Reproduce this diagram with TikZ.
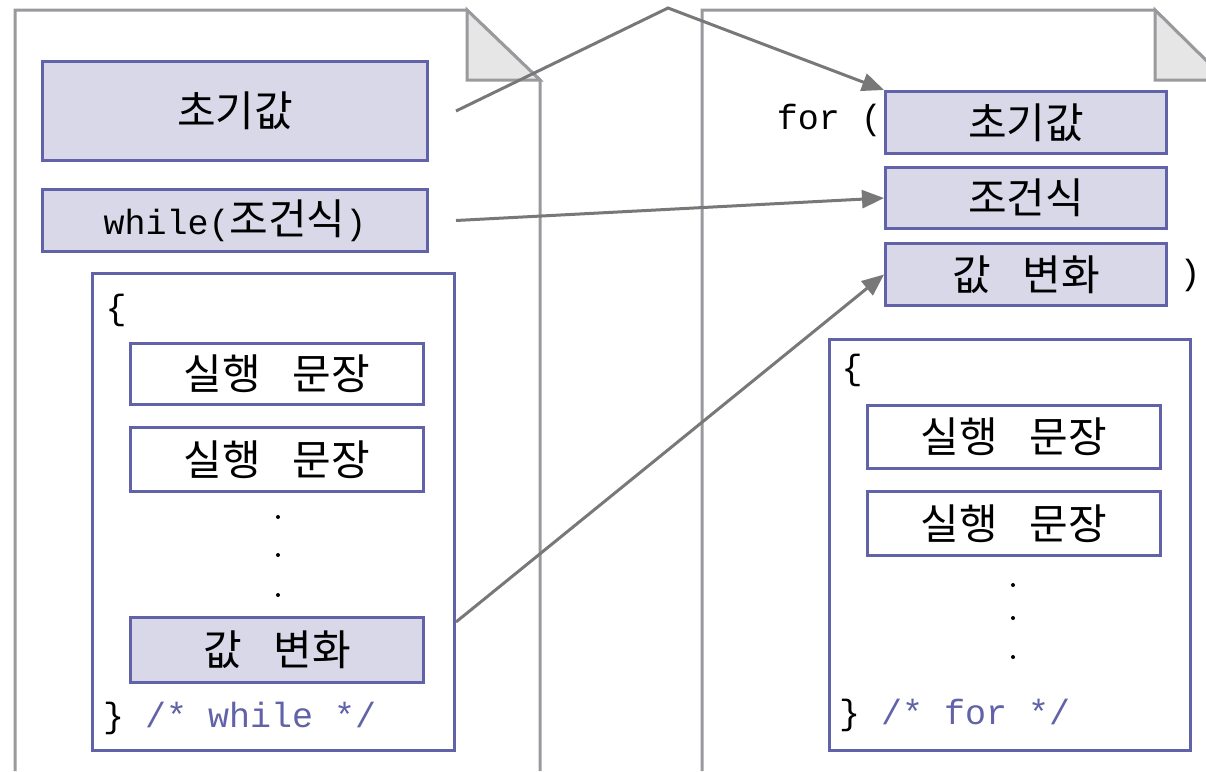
\documentclass[tikz,border=0pt]{standalone}
\usepackage{fontspec}
\setmonofont{Liberation Mono}
\newfontfamily\kr[WordSpace=3.4]{Noto Sans CJK KR}
\usetikzlibrary{arrows.meta}
\definecolor{pagegrey}{HTML}{9A9A9E}
\definecolor{foldgrey}{HTML}{E6E6E6}
\definecolor{boxblue}{HTML}{6262A8}
\definecolor{boxfill}{HTML}{D8D8E8}
\definecolor{arrowgrey}{HTML}{787878}

\begin{document}
\begin{tikzpicture}[
    x=1pt, y=-1pt,
    every node/.style={font=\kr\fontsize{42}{50}\selectfont},
    page/.style={line width=3pt,draw=pagegrey},
    fold/.style={line width=3pt,draw=pagegrey,fill=foldgrey},
    field/.style={draw=boxblue,fill=boxfill,line width=3pt,inner sep=0pt},
    stmt/.style={draw=boxblue,fill=white,line width=3pt,inner sep=0pt,minimum width=293pt},
    block/.style={draw=boxblue,line width=3pt,inner sep=0pt},
    code/.style={font=\ttfamily\fontsize{35}{42}\selectfont,inner sep=0pt},
    arrow/.style={line width=3pt,draw=arrowgrey,-{Triangle[length=22pt,width=18pt]}},
    dot/.style={fill=black,draw=none}
]
\useasboundingbox (0,0) rectangle (1206,771);

% pages
\draw [page] (15,771) -- (15,10) -- (467,10) -- (540,80) -- (540,771);
\filldraw [fold] (467,10) -- (467,80) -- (540,80) -- cycle;
\draw [page] (702,771) -- (702,10) -- (1155,10) -- (1226,80);
\filldraw [fold] (1155,10) -- (1155,80) -- (1226,80) -- cycle;

% while side
\node [field,minimum width=385pt,minimum height=99pt] (w-init) at (235,111) {초기값};
\node [field,minimum width=385pt,minimum height=62pt] (w-cond) at (235,220.5)
    {{\ttfamily\fontsize{35}{42}\selectfont while(}조건식{\ttfamily\fontsize{35}{42}\selectfont )}};
\node [block,minimum width=362pt,minimum height=477pt] (w-blk) at (273.5,512) {};
\node [code] (w-open) at (116,310) {\{};
\node [stmt,minimum height=61pt] (w-s1) at (277,374) {실행 문장};
\node [stmt,minimum height=64pt] (w-s2) at (277,459.5) {실행 문장};
\fill [dot] (278,517) circle (2pt) (278,555) circle (2pt) (278,595) circle (2pt);
\node [field,minimum width=293pt,minimum height=65pt] (w-upd) at (277,650) {값 변화};
\node [code,anchor=west] (w-close) at (103,718) {\} \textcolor{boxblue}{/* while */}};

% for side
\node [code,anchor=east] (f-kw) at (882,120) {for (};
\node [field,minimum width=281pt,minimum height=62pt] (f-init) at (1026,122.5) {초기값};
\node [field,minimum width=281pt,minimum height=61pt] (f-cond) at (1026,198) {조건식};
\node [field,minimum width=281pt,minimum height=62pt] (f-upd) at (1026,274.5) {값 변화};
\node [code] (f-close-paren) at (1190,275) {)};
\node [block,minimum width=361pt,minimum height=411pt] (f-blk) at (1010,545) {};
\node [code] (f-open) at (852,370) {\{};
\node [stmt,minimum height=63pt] (f-s1) at (1014,437) {실행 문장};
\node [stmt,minimum height=64pt] (f-s2) at (1014,523.5) {실행 문장};
\fill [dot] (1013,585) circle (2pt) (1013,618) circle (2pt) (1013,657) circle (2pt);
\node [code,anchor=west] (f-close) at (839,715) {\} \textcolor{boxblue}{/* for */}};

% arrows
\coordinate (peak) at (668,8);
\draw [arrow] ([xshift=27pt]w-init.east) -- (peak) -- (f-init.north west);
\draw [arrow] ([xshift=27pt]w-cond.east) -- (f-cond.west);
\draw [arrow] ([xshift=31pt,yshift=28pt]w-upd.east) -- (f-upd.west);

\end{tikzpicture}
\end{document}
